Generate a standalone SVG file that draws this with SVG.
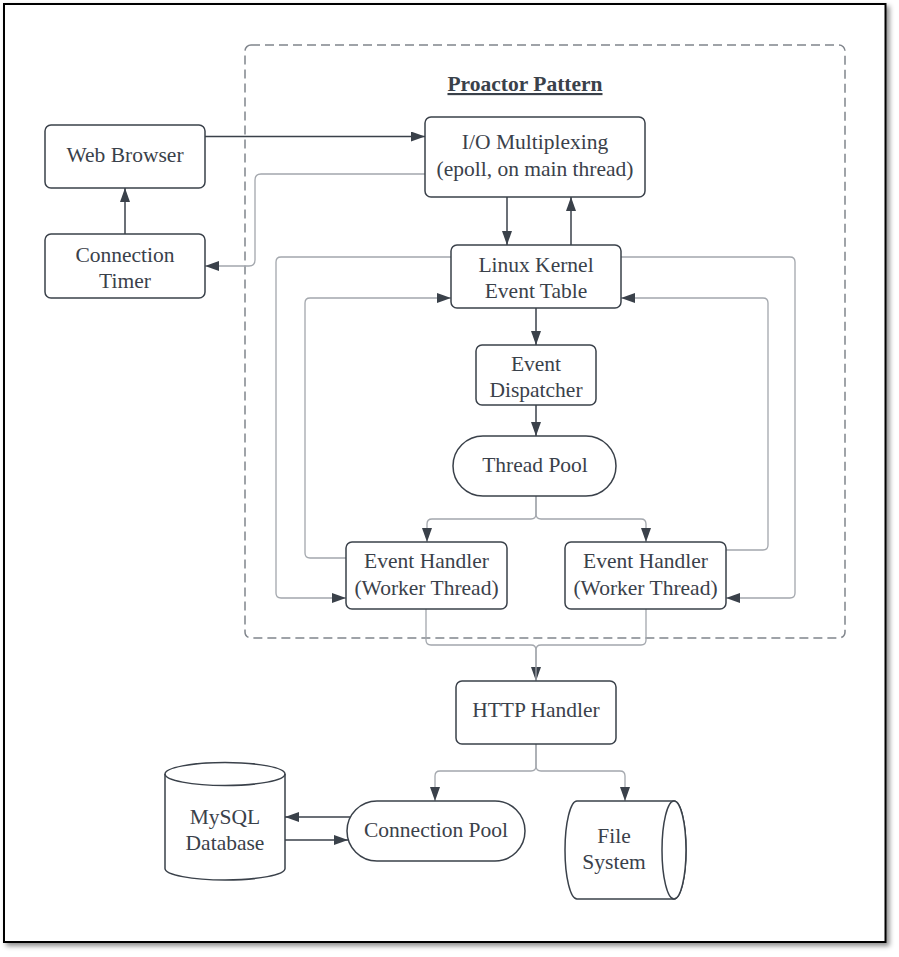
<svg xmlns="http://www.w3.org/2000/svg" width="899" height="957" viewBox="0 0 899 957">
<style>
.box{fill:#fff;stroke:#3a414a;stroke-width:1.5}
.t{font-family:"Liberation Serif","Times New Roman",serif;font-size:21.5px;fill:#3a414a;text-anchor:middle}
.title{font-weight:bold;font-size:21.5px;text-decoration:underline}
.dk{fill:none;stroke:#3a414a;stroke-width:1.5}
.lt{fill:none;stroke:#a3a7ad;stroke-width:1.3}
</style>
<defs>
<marker id="ah" markerUnits="userSpaceOnUse" markerWidth="15" markerHeight="11" refX="14" refY="5" orient="auto">
<path d="M0,0 L14,5 L0,10 Z" fill="#3a414a"/>
</marker>
<filter id="sh" x="-5%" y="-5%" width="110%" height="110%">
<feDropShadow dx="3" dy="3" stdDeviation="2.5" flood-color="#000" flood-opacity="0.45"/>
</filter>
</defs>
<rect x="0" y="0" width="899" height="957" fill="#fff"/>
<rect id="frame" x="4" y="4" width="881.5" height="938" fill="#fff" stroke="#000" stroke-width="2" filter="url(#sh)"/>
<g id="container">
<rect x="245" y="45" width="600" height="593" rx="6" fill="none" stroke="#80858c" stroke-width="1.5" stroke-dasharray="9,5"/>
<text class="t title" x="525" y="91">Proactor Pattern</text>
</g>
<g id="connectors">
<path class="dk" d="M205,136.5 H425" marker-end="url(#ah)"/>
<path class="dk" d="M125,234 V188" marker-end="url(#ah)"/>
<path class="lt" d="M425,174 H261 Q255,174 255,180 V260 Q255,266 249,266 H205" marker-end="url(#ah)"/>
<path class="dk" d="M507,197 V245" marker-end="url(#ah)"/>
<path class="dk" d="M571,245 V197" marker-end="url(#ah)"/>
<path class="dk" d="M536,308 V345" marker-end="url(#ah)"/>
<path class="dk" d="M536,405 V436" marker-end="url(#ah)"/>
<path class="lt" d="M536,496 V514 Q536,519 531,519 H432 Q427,519 427,524 V542" marker-end="url(#ah)"/>
<path class="lt" d="M536,496 V514 Q536,519 541,519 H641 Q646,519 646,524 V542" marker-end="url(#ah)"/>
<path class="lt" d="M451,257 H281 Q276,257 276,262 V593 Q276,598 281,598 H346" marker-end="url(#ah)"/>
<path class="lt" d="M346,558 H310 Q305,558 305,553 V303 Q305,298 310,298 H451" marker-end="url(#ah)"/>
<path class="lt" d="M621,257 H790 Q795,257 795,262 V593 Q795,598 790,598 H726" marker-end="url(#ah)"/>
<path class="lt" d="M726,550 H763 Q768,550 768,545 V303 Q768,298 763,298 H621" marker-end="url(#ah)"/>
<path class="lt" d="M426,609 V640 Q426,645 431,645 H531 Q536,645 536,650 V681" marker-end="url(#ah)"/>
<path class="lt" d="M646,609 V640 Q646,645 641,645 H541 Q536,645 536,650 V681"/>
<path class="lt" d="M536,744 V766 Q536,771 531,771 H440 Q435,771 435,776 V801" marker-end="url(#ah)"/>
<path class="lt" d="M536,744 V766 Q536,771 541,771 H620 Q625,771 625,776 V801" marker-end="url(#ah)"/>
<path class="dk" d="M350,817 H285" marker-end="url(#ah)"/>
<path class="dk" d="M285,840 H348" marker-end="url(#ah)"/>
</g>
<g id="web-browser">
<rect class="box" x="45" y="125" width="160" height="63" rx="6"/>
<text class="t" x="125" y="162">Web Browser</text>
</g>
<g id="connection-timer">
<rect class="box" x="45" y="234" width="160" height="64" rx="6"/>
<text class="t" x="125" y="261.5">Connection</text>
<text class="t" x="125" y="288">Timer</text>
</g>
<g id="io-multiplexing">
<rect class="box" x="425" y="117" width="220" height="80" rx="6"/>
<text class="t" x="535" y="149">I/O Multiplexing</text>
<text class="t" x="535" y="175.5">(epoll, on main thread)</text>
</g>
<g id="linux-kernel">
<rect class="box" x="451" y="245" width="170" height="63" rx="6"/>
<text class="t" x="536" y="272">Linux Kernel</text>
<text class="t" x="536" y="298">Event Table</text>
</g>
<g id="event-dispatcher">
<rect class="box" x="476" y="345" width="120" height="60" rx="6"/>
<text class="t" x="536" y="371">Event</text>
<text class="t" x="536" y="397">Dispatcher</text>
</g>
<g id="thread-pool">
<rect class="box" x="453" y="436" width="163" height="60" rx="30"/>
<text class="t" x="535" y="472">Thread Pool</text>
</g>
<g id="event-handler-1">
<rect class="box" x="346" y="542" width="161" height="67" rx="6"/>
<text class="t" x="426.5" y="568">Event Handler</text>
<text class="t" x="426.5" y="595">(Worker Thread)</text>
</g>
<g id="event-handler-2">
<rect class="box" x="565" y="542" width="161" height="67" rx="6"/>
<text class="t" x="645.5" y="568">Event Handler</text>
<text class="t" x="645.5" y="595">(Worker Thread)</text>
</g>
<g id="http-handler">
<rect class="box" x="456" y="681" width="160" height="63" rx="6"/>
<text class="t" x="536" y="717">HTTP Handler</text>
</g>
<g id="mysql-database">
<path class="box" d="M165,774 A60,11.5 0 0 1 285,774 V868.5 A60,11.5 0 0 1 165,868.5 Z"/>
<path class="dk" d="M165,774 A60,11.5 0 0 0 285,774"/>
<text class="t" x="225" y="824">MySQL</text>
<text class="t" x="225" y="850">Database</text>
</g>
<g id="connection-pool">
<rect class="box" x="347" y="801" width="178" height="60" rx="30"/>
<text class="t" x="436" y="837">Connection Pool</text>
</g>
<g id="file-system">
<path class="box" d="M577,801 H674 A12,49 0 0 1 674,899 H577 A12,49 0 0 1 577,801 Z"/>
<ellipse class="box" cx="674" cy="850" rx="12" ry="49"/>
<text class="t" x="614" y="843">File</text>
<text class="t" x="614" y="869">System</text>
</g>
</svg>
